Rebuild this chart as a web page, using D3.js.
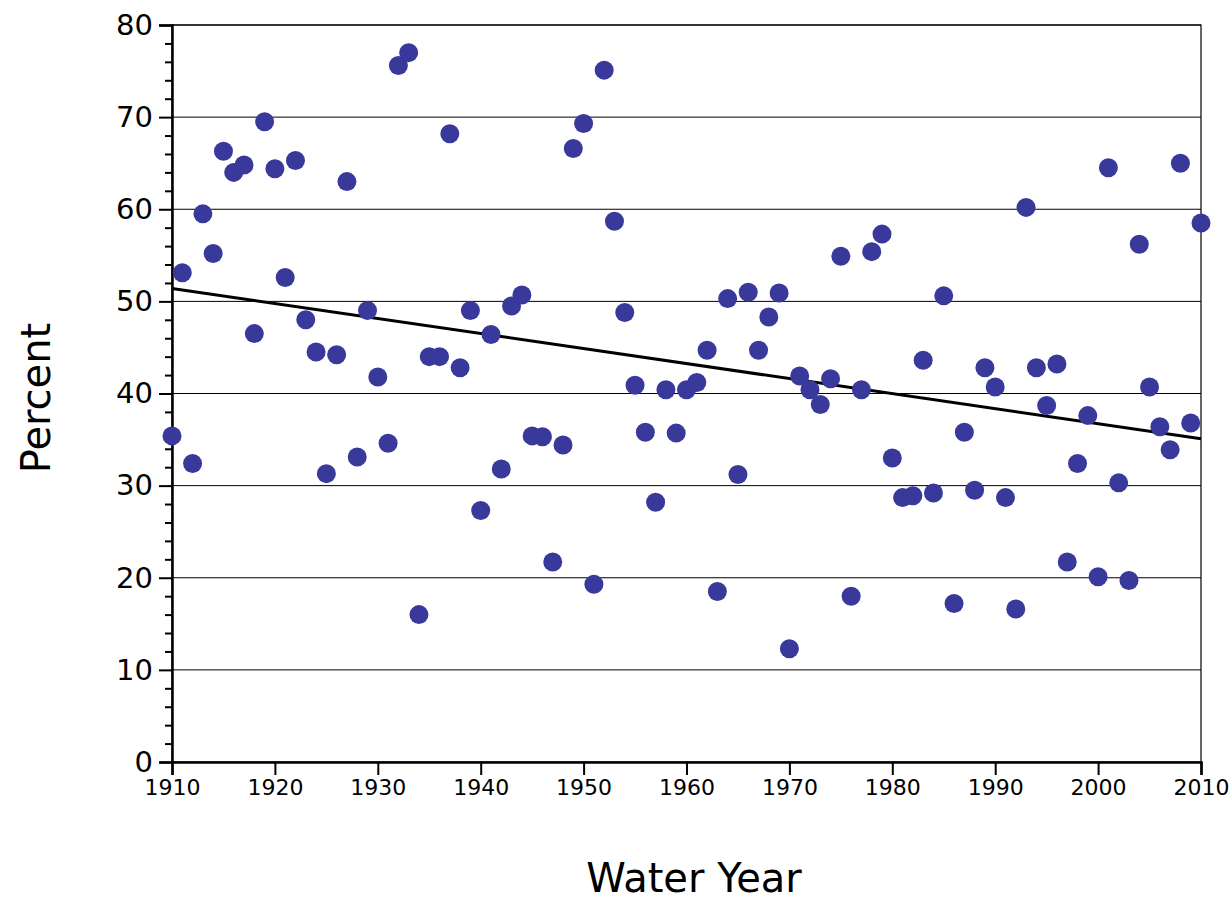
<!DOCTYPE html>
<html><head><meta charset="utf-8">
<script src="https://cdn.jsdelivr.net/npm/d3@7"></script>
<style>body{margin:0;background:#fff}text{font-family:"DejaVu Sans",sans-serif}</style>
</head><body><svg id="c" width="1232" height="904"></svg>
<script>
const years = d3.range(1910, 2011);
const percent = [35.4,53.1,32.4,59.5,55.2,66.3,64.0,64.8,46.5,69.5,
64.4,52.6,65.3,48.0,44.5,31.3,44.2,63.0,33.1,49.0,
41.8,34.6,75.6,77.0,16.0,44.0,44.0,68.2,42.8,49.0,
27.3,46.4,31.8,49.5,50.7,35.4,35.3,21.7,34.4,66.6,
69.3,19.3,75.1,58.7,48.8,40.9,35.8,28.2,40.4,35.7,
40.4,41.2,44.7,18.5,50.3,31.2,51.0,44.7,48.3,50.9,
12.3,41.9,40.4,38.8,41.6,54.9,18.0,40.4,55.4,57.3,
33.0,28.7,28.9,43.6,29.2,50.6,17.2,35.8,29.5,42.8,
40.7,28.7,16.6,60.2,42.8,38.7,43.2,21.7,32.4,37.6,
20.1,64.5,30.3,19.7,56.2,40.7,36.4,33.9,65.0,36.8,58.5];
const trend = [[1910, 51.4], [2010, 35.1]];
const yTicks = d3.range(0, 81, 10);
const xTicks = d3.range(1910, 2011, 10);

const svg = d3.select('#c');
const x = d3.scaleLinear().domain([1910, 2010]).range([172, 1201]);
const y = d3.scaleLinear().domain([0, 80]).range([762, 25]);

// grid
svg.selectAll('line.g').data(yTicks.slice(1)).enter().append('line')
    .attr('x1', 172).attr('x2', 1201).attr('y1', d => y(d)).attr('y2', d => y(d))
    .attr('stroke', '#000').attr('stroke-width', 1);
svg.append('rect').attr('x', 172).attr('y', 25).attr('width', 1029).attr('height', 737)
    .attr('fill', 'none').attr('stroke', '#000').attr('stroke-width', 1.2);

// axes
const ya = svg.append('g').attr('transform', 'translate(172,0)')
    .call(d3.axisLeft(y).tickValues(yTicks).tickSize(13).tickPadding(6));
svg.append('g').attr('transform', 'translate(172,0)')
    .call(d3.axisLeft(y).tickValues(d3.range(0, 81, 2).filter(d => d % 10)).tickSize(7).tickFormat(''))
    .call(g => g.select('.domain').remove());
const xa = svg.append('g').attr('transform', 'translate(0,762)')
    .call(d3.axisBottom(x).tickValues(xTicks).tickSize(13).tickPadding(4).tickFormat(d3.format('d')));
svg.selectAll('.tick line').attr('stroke-width', 2);
svg.selectAll('.domain').attr('stroke-width', 2.5);
ya.selectAll('text').attr('font-size', 29);
xa.selectAll('text').attr('font-size', 22);

// trend
svg.append('line').attr('x1', x(trend[0][0])).attr('y1', y(trend[0][1]))
    .attr('x2', x(trend[1][0])).attr('y2', y(trend[1][1]))
    .attr('stroke', '#000').attr('stroke-width', 3);

svg.selectAll('circle').data(years).enter().append('circle')
    .attr('cx', d => x(d)).attr('cy', (d, i) => y(percent[i])).attr('r', 9.5)
    .attr('fill', '#38399a');

svg.append('text').attr('x', 694).attr('y', 892).attr('text-anchor', 'middle')
    .attr('font-size', 40).text('Water Year');
svg.append('text').attr('transform', 'translate(50,398) rotate(-90)').attr('text-anchor', 'middle')
    .attr('font-size', 40).text('Percent');
</script></body></html>
